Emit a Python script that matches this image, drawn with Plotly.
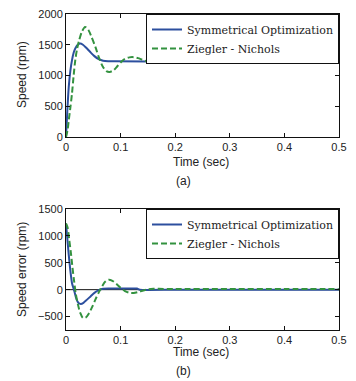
import plotly.graph_objects as go

# ---------------- data ----------------
t_so_speed = [0, 0.002, 0.005, 0.008, 0.011, 0.014, 0.017, 0.021, 0.026, 0.031, 0.037,
              0.044, 0.052, 0.060, 0.068, 0.078, 0.09, 0.2, 0.3, 0.4, 0.5]
so_speed = [0, 350, 810, 1080, 1250, 1370, 1440, 1495, 1520, 1500, 1450,
            1385, 1315, 1265, 1240, 1232, 1230, 1230, 1230, 1230, 1230]

t_zn_speed = [0, 0.003, 0.005, 0.008, 0.011, 0.014, 0.017, 0.020, 0.024, 0.029, 0.035,
              0.041, 0.047, 0.054, 0.060, 0.067, 0.074, 0.080, 0.087, 0.094, 0.101,
              0.108, 0.116, 0.124, 0.132, 0.140, 0.150, 0.160, 0.170, 0.180, 0.190,
              0.200, 0.210, 0.220, 0.235, 0.25, 0.3, 0.5]
zn_speed = [0, 120, 270, 480, 710, 1000, 1250, 1420, 1570, 1710, 1790,
            1740, 1620, 1460, 1300, 1150, 1070, 1057, 1085, 1150, 1220,
            1270, 1295, 1298, 1282, 1255, 1225, 1210, 1212, 1225, 1238,
            1245, 1243, 1236, 1230, 1230, 1230, 1230]

t_so_err = [0, 0.002, 0.005, 0.008, 0.011, 0.015, 0.019, 0.023, 0.027, 0.032, 0.038,
            0.045, 0.052, 0.060, 0.068, 0.078, 0.10, 0.13, 0.135, 0.2, 0.5]
so_err = [1230, 1000, 650, 350, 120, -20, -170, -250, -265, -245, -190,
          -125, -60, -10, 15, 20, 20, 20, 0, 0, 0]

t_zn_err = [0, 0.003, 0.006, 0.009, 0.012, 0.015, 0.018, 0.022, 0.026, 0.031, 0.036,
            0.042, 0.048, 0.054, 0.060, 0.066, 0.072, 0.078, 0.085, 0.092, 0.100,
            0.108, 0.116, 0.124, 0.132, 0.140, 0.150, 0.160, 0.170, 0.2, 0.3, 0.4, 0.5]
zn_err = [1230, 1150, 920, 680, 400, 150, -80, -280, -430, -525, -520,
          -440, -320, -180, -50, 60, 150, 185, 165, 110, 35,
          -25, -58, -62, -45, -20, 5, 15, 15, 12, 12, 12, 10]

x_ticks = [0, 0.1, 0.2, 0.3, 0.4, 0.5]
x_tick_labels = ["0", "0.1", "0.2", "0.3", "0.4", "0.5"]
speed_ticks = [0, 500, 1000, 1500, 2000]
err_ticks = [-500, 0, 500, 1000, 1500]

series_names = ["Symmetrical Optimization", "Ziegler - Nichols"]

# ---------------- figure ----------------
# the page body adds an 8px margin, so the figure is drawn 8px smaller
OFF = 8
W, H = 356, 381
FW, FH = W - OFF, H - OFF
BLUE = "#2c4f9e"
GREEN = "#33923f"
TICKFONT = dict(family="Liberation Sans, Arial, sans-serif", size=11, color="#222")

def px_x(p):
    return (p - OFF) / FW

def px_y(p):
    return 1 - (p - OFF) / FH

fig = go.Figure()

fig.add_trace(go.Scatter(x=t_so_speed, y=so_speed, name=series_names[0], mode="lines",
                         line=dict(color=BLUE, width=2, shape="spline", smoothing=0.8),
                         xaxis="x", yaxis="y", legend="legend"))
fig.add_trace(go.Scatter(x=t_zn_speed, y=zn_speed, name=series_names[1], mode="lines",
                         line=dict(color=GREEN, width=2, dash="6px,3px", shape="spline", smoothing=0.8),
                         xaxis="x", yaxis="y", legend="legend"))
fig.add_trace(go.Scatter(x=t_so_err, y=so_err, name=series_names[0], mode="lines",
                         line=dict(color=BLUE, width=2, shape="spline", smoothing=0.6),
                         xaxis="x2", yaxis="y2", legend="legend2"))
fig.add_trace(go.Scatter(x=t_zn_err, y=zn_err, name=series_names[1], mode="lines",
                         line=dict(color=GREEN, width=2, dash="6px,3px", shape="spline", smoothing=0.8),
                         xaxis="x2", yaxis="y2", legend="legend2"))

axis_common = dict(showline=True, linecolor="#111", linewidth=1, mirror="ticks",
                   ticks="inside", ticklen=4, tickcolor="#111", tickfont=TICKFONT,
                   showgrid=False, zeroline=False, ticklabeloverflow="allow")

xdom = [px_x(66), px_x(339)]
legend_common = dict(x=px_x(339), xanchor="right", yanchor="top",
                     bgcolor="white", bordercolor="#111", borderwidth=1,
                     font=dict(family="DejaVu Serif, serif", size=11, color="#222"),
                     tracegroupgap=0, itemwidth=30)
fig.update_layout(
    width=FW, height=FH,
    margin=dict(l=0, r=0, t=0, b=0, autoexpand=False),
    paper_bgcolor="white", plot_bgcolor="white",
    showlegend=True,
    xaxis=dict(domain=xdom, range=[0, 0.5], tickvals=x_ticks, ticktext=x_tick_labels,
               anchor="y", **axis_common),
    yaxis=dict(domain=[px_y(137), px_y(14)], range=[0, 2000], tickvals=speed_ticks,
               anchor="x", **axis_common),
    xaxis2=dict(domain=xdom, range=[0, 0.5], tickvals=x_ticks, ticktext=x_tick_labels,
                anchor="y2", **axis_common),
    yaxis2=dict(domain=[px_y(330), px_y(209)], range=[-750, 1500], tickvals=err_ticks,
                anchor="x2", **axis_common),
    legend=dict(y=px_y(14), **legend_common),
    legend2=dict(y=px_y(209), **legend_common),
)

# zero line in the error plot
fig.add_shape(type="line", xref="x2", yref="y2", x0=0, x1=0.5, y0=0, y1=0,
              line=dict(color="#111", width=1), layer="below")

LABELFONT = dict(family="Liberation Sans, Arial, sans-serif", size=12, color="#222")
annots = [
    dict(text="Speed (rpm)", x=px_x(22), y=px_y(75), textangle=-90),
    dict(text="Time (sec)", x=px_x(201), y=px_y(162)),
    dict(text="(a)", x=px_x(183), y=px_y(181)),
    dict(text="Speed error (rpm)", x=px_x(22), y=px_y(270), textangle=-90),
    dict(text="Time (sec)", x=px_x(201), y=px_y(352)),
    dict(text="(b)", x=px_x(183), y=px_y(371)),
]
for a in annots:
    fig.add_annotation(xref="paper", yref="paper", showarrow=False,
                       xanchor="center", yanchor="middle", font=LABELFONT, **a)

fig.write_html("out.html")
